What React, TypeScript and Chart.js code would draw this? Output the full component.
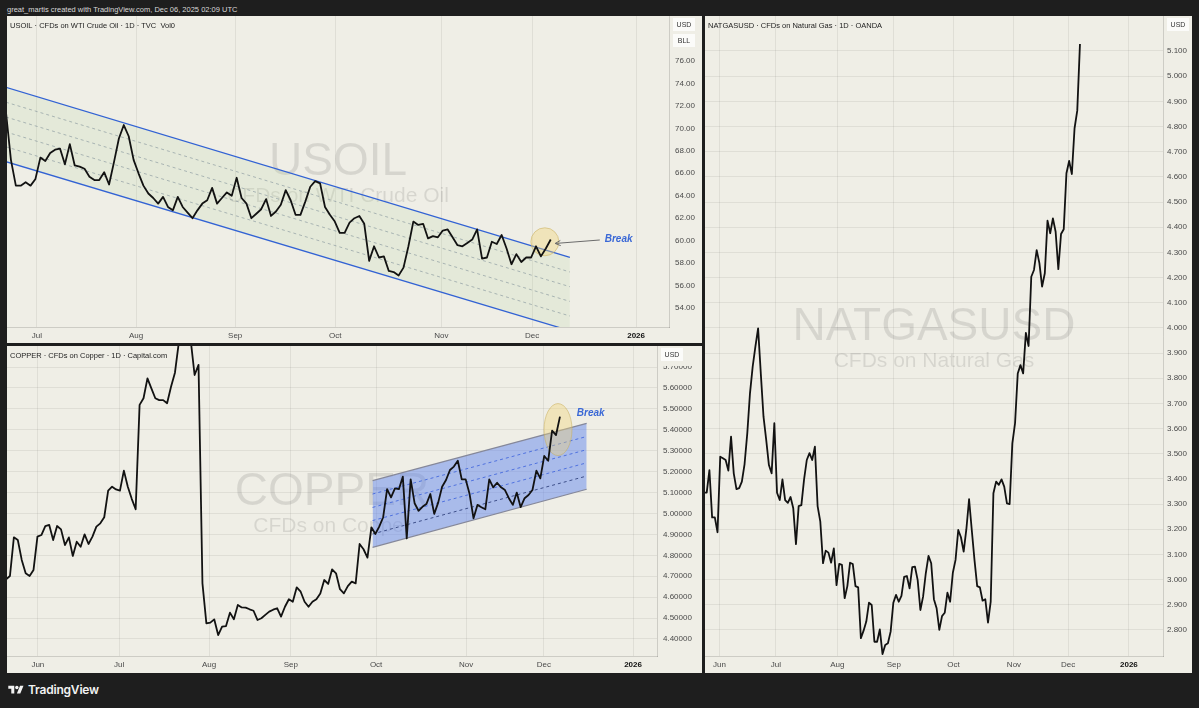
import React, { useEffect, useRef } from "react";
import { Chart, registerables } from "chart.js";

Chart.register(...registerables);

const FONT = "'Liberation Sans', Arial, Helvetica, sans-serif";
const CREAM = "#efeee6";

// ---------------- USOIL (daily closes, one value per bar) ----------------
const oilClose = [
  71.4, 67.2, 64.9, 64.9, 65.2, 64.9, 65.5, 67.4, 67.1, 67.8, 68.1, 68.2, 66.8, 68.6, 66.7, 66.6, 66.4, 65.7, 65.4, 65.4,
  66.1, 65.0, 67.0, 69.1, 70.3, 69.3, 67.2, 66.0, 64.9, 64.2, 63.8, 63.3, 63.9, 63.0, 62.7, 63.9, 63.0, 62.5, 62.0, 62.7,
  63.3, 63.6, 64.7, 63.3, 63.8, 64.3, 64.0, 65.6, 63.8, 63.3, 62.0, 62.4, 62.8, 63.7, 62.2, 62.6, 63.2, 64.5, 63.6, 62.3,
  62.3, 63.5, 64.8, 65.3, 65.1, 63.0, 62.3, 61.7, 60.7, 60.7, 61.6, 62.0, 62.2, 61.5, 58.2, 59.5, 58.5, 58.6, 57.3, 57.2,
  56.9, 57.6, 59.5, 61.7, 61.4, 61.5, 60.2, 60.4, 60.3, 60.9, 61.0, 60.3, 59.6, 59.5, 59.8, 60.1, 61.0, 58.4, 58.5, 59.9,
  59.7, 60.5, 59.3, 57.9, 58.8, 58.1, 58.5, 58.5, 59.5, 58.6, 59.3, 60.1,
];
const oilMonthLabels = ["Jul", "Aug", "Sep", "Oct", "Nov", "Dec", "2026"];
const oilMonthBars = [6.3, 26.5, 46.7, 67.1, 88.7, 107.2, 128.4];
const oilPriceTicks = [54, 56, 58, 60, 62, 64, 66, 68, 70, 72, 74, 76];
const oilChannelBars = [0, 114.9];
const oilChannelUpper = [73.66, 58.52];
const oilChannelLevels = [
  [72.33, 57.21],
  [71.01, 55.9],
  [69.68, 54.59],
  [68.36, 53.29],
];
const oilChannelLower = [67.03, 51.98];
const oilBreakCircle = [109.8, 59.9];
const oilBreakArrowFrom = [121.0, 60.06];
const oilBreakArrowTo = [111.9, 59.75];
const oilBreakText = [122.0, 60.1];

// ---------------- COPPER ----------------
const copperClose = [
  4.685, 4.701, 4.886, 4.873, 4.778, 4.714, 4.701, 4.73, 4.889, 4.897,
  4.94, 4.945, 4.873, 4.94, 4.924, 4.849, 4.886, 4.797, 4.865, 4.841,
  4.9, 4.854, 4.889, 4.937, 4.953, 4.982, 5.109, 5.128, 5.115, 5.109,
  5.205, 5.128, 5.07, 5.02, 5.519, 5.551, 5.646, 5.598, 5.551, 5.542,
  5.542, 5.527, 5.606, 5.673, 5.82, 5.9, 5.93, 5.83, 5.662, 5.71,
  4.666, 4.475, 4.478, 4.494, 4.419, 4.459, 4.462, 4.526, 4.494, 4.563,
  4.551, 4.55, 4.542, 4.535, 4.491, 4.499, 4.515, 4.531, 4.54, 4.547,
  4.507, 4.554, 4.59, 4.578, 4.647, 4.626, 4.578, 4.554, 4.578, 4.59,
  4.618, 4.682, 4.663, 4.733, 4.714, 4.638, 4.618, 4.653, 4.674, 4.666,
  4.854, 4.829, 4.789, 4.934, 4.902, 4.937, 4.982, 5.116, 5.077, 5.12,
  5.116, 5.176, 4.881, 5.163, 5.049, 5.013, 5.032, 5.045, 5.093, 4.998,
  5.052, 5.128, 5.16, 5.208, 5.224, 5.252, 5.163, 5.163, 5.093, 4.977,
  5.041, 5.03, 5.02, 5.163, 5.125, 5.147, 5.125, 5.112, 5.073, 5.041,
  5.1, 5.03, 5.073, 5.088, 5.112, 5.205, 5.168, 5.275, 5.252, 5.396,
  5.375, 5.463,
];
const copperMonthLabels = ["Jun", "Jul", "Aug", "Sep", "Oct", "Nov", "Dec", "2026"];
const copperMonthBars = [8.1, 28.8, 51.7, 72.5, 94.2, 117.1, 136.9, 159.6];
const copperPriceTicks = [4.4, 4.5, 4.6, 4.7, 4.8, 4.9, 5.0, 5.1, 5.2, 5.3, 5.4, 5.5, 5.6, 5.7];
const copperChannelBars = [93.3, 147.8];
const copperChannelUpper = [5.157, 5.431];
const copperChannelLevels = [
  [5.093, 5.368],
  [5.029, 5.305],
  [4.966, 5.242],
  [4.902, 5.179],
];
const copperChannelLower = [4.838, 5.116];
const copperBreakEllipse = [140.5, 5.401];
const copperBreakText = [145.3, 5.48];

// ---------------- NATGASUSD ----------------
const gasClose = [
  3.345, 3.345, 3.435, 3.247, 3.247, 3.188, 3.488, 3.482, 3.475, 3.433,
  3.568, 3.422, 3.359, 3.363, 3.389, 3.459, 3.581, 3.74, 3.846, 3.925,
  3.998, 3.819, 3.647, 3.555, 3.455, 3.422, 3.621, 3.345, 3.316, 3.398,
  3.316, 3.305, 3.328, 3.283, 3.141, 3.292, 3.296, 3.398, 3.475, 3.502,
  3.475, 3.528, 3.292, 3.23, 3.065, 3.115, 3.107, 3.067, 3.124, 2.978,
  3.062, 3.058, 2.926, 2.974, 3.067, 3.062, 2.974, 2.969, 2.767, 2.797,
  2.833, 2.908, 2.899, 2.753, 2.753, 2.802, 2.704, 2.74, 2.747, 2.793,
  2.908, 2.939, 2.912, 2.935, 3.011, 3.014, 2.965, 3.049, 3.051, 2.998,
  2.879, 2.932, 3.025, 3.094, 3.065, 2.922, 2.886, 2.8, 2.855, 2.868,
  2.948, 2.912, 3.027, 3.078, 3.197, 3.168, 3.111, 3.2, 3.319, 3.197,
  3.078, 2.974, 2.969, 2.916, 2.922, 2.829, 2.912, 3.343, 3.389, 3.376,
  3.398, 3.369, 3.303, 3.3, 3.541, 3.621, 3.819, 3.852, 3.819, 3.98,
  3.928, 4.203, 4.23, 4.309, 4.257, 4.164, 4.217, 4.426, 4.376, 4.435,
  4.382, 4.233, 4.373, 4.392, 4.614, 4.663, 4.611, 4.793, 4.863, 5.128,
];
const gasMonthLabels = ["Jun", "Jul", "Aug", "Sep", "Oct", "Nov", "Dec", "2026"];
const gasMonthBars = [5.7, 26.6, 49.3, 70.2, 92.2, 114.6, 134.6, 157.1];
const gasPriceTicks = [
  2.8, 2.9, 3.0, 3.1, 3.2, 3.3, 3.4, 3.5, 3.6, 3.7, 3.8, 3.9, 4.0,
  4.1, 4.2, 4.3, 4.4, 4.5, 4.6, 4.7, 4.8, 4.9, 5.0, 5.1,
];

type Pt = number[];
type Spec = {
  title: string;
  mark: string;
  markSub: string;
  close: number[];
  xMin: number;
  xMax: number;
  monthBars: number[];
  monthLabels: string[];
  yMin: number;
  yMax: number;
  yTicks: number[];
  decimals: number;
  yGrid: boolean;
  axisWidth: number;
  axisHeight: number;
  labelPad: number;
  boxes: string[];
  coverTop: number;
  extra: any[];
  ellipse?: { at: Pt; rx: number; ry: number };
  arrow?: { from: Pt; to: Pt };
  breakText?: Pt;
};

function seg(bars: number[], vals: number[]) {
  return bars.map((b, i) => ({ x: b, y: vals[i] }));
}

function channelSets(
  bars: number[],
  upper: number[],
  lower: number[],
  levels: number[][],
  edge: string,
  edgeWidth: number,
  fillColor: string,
  dashColors: string[]
) {
  const sets: any[] = [
    { data: seg(bars, upper), borderColor: edge, borderWidth: edgeWidth, pointRadius: 0, fill: false },
    { data: seg(bars, lower), borderColor: edge, borderWidth: edgeWidth, pointRadius: 0, fill: "-1", backgroundColor: fillColor },
  ];
  levels.forEach((lv, i) => {
    sets.push({
      data: seg(bars, lv),
      borderColor: dashColors[i],
      borderWidth: 1,
      borderDash: [3, 3],
      pointRadius: 0,
      fill: false,
    });
  });
  return sets;
}

function decorPlugin(spec: Spec) {
  return {
    id: "decor",
    beforeDatasetsDraw(chart: any) {
      const { ctx, chartArea: a } = chart;
      ctx.save();
      ctx.beginPath();
      ctx.rect(a.left, a.top, a.right - a.left, a.bottom - a.top);
      ctx.clip();
      ctx.fillStyle = "rgba(0,0,0,0.1)";
      ctx.textAlign = "center";
      ctx.textBaseline = "middle";
      const cx = (a.left + a.right) / 2;
      const cy = (a.top + a.bottom) / 2;
      ctx.font = `46px ${FONT}`;
      ctx.fillText(spec.mark, cx, cy - 9);
      ctx.font = `21px ${FONT}`;
      ctx.fillText(spec.markSub, cx, cy + 25);
      ctx.restore();
    },
    beforeDatasetDraw(chart: any, args: any) {
      if (args.index !== 0 || !spec.ellipse) return;
      const { ctx } = chart;
      const xs = chart.scales.x;
      const ys = chart.scales.y;
      const e = spec.ellipse;
      ctx.save();
      ctx.beginPath();
      ctx.ellipse(xs.getPixelForValue(e.at[0]), ys.getPixelForValue(e.at[1]), e.rx, e.ry, 0, 0, Math.PI * 2);
      ctx.fillStyle = "rgba(242,214,115,0.38)";
      ctx.fill();
      ctx.strokeStyle = "rgba(200,175,95,0.55)";
      ctx.lineWidth = 1;
      ctx.stroke();
      ctx.restore();
    },
    afterDatasetsDraw(chart: any) {
      const { ctx } = chart;
      const xs = chart.scales.x;
      const ys = chart.scales.y;
      ctx.save();
      if (spec.arrow) {
        const x1 = xs.getPixelForValue(spec.arrow.from[0]);
        const y1 = ys.getPixelForValue(spec.arrow.from[1]);
        const x2 = xs.getPixelForValue(spec.arrow.to[0]);
        const y2 = ys.getPixelForValue(spec.arrow.to[1]);
        ctx.strokeStyle = "#6b6b6b";
        ctx.lineWidth = 1;
        ctx.beginPath();
        ctx.moveTo(x1, y1);
        ctx.lineTo(x2, y2);
        const ang = Math.atan2(y2 - y1, x2 - x1);
        const L = 6;
        ctx.moveTo(x2 - L * Math.cos(ang - 0.45), y2 - L * Math.sin(ang - 0.45));
        ctx.lineTo(x2, y2);
        ctx.lineTo(x2 - L * Math.cos(ang + 0.45), y2 - L * Math.sin(ang + 0.45));
        ctx.stroke();
      }
      if (spec.breakText) {
        ctx.fillStyle = "#3a68d6";
        ctx.font = `italic bold 10px ${FONT}`;
        ctx.textAlign = "left";
        ctx.textBaseline = "middle";
        ctx.fillText("Break", xs.getPixelForValue(spec.breakText[0]), ys.getPixelForValue(spec.breakText[1]));
      }
      ctx.restore();
    },
    afterDraw(chart: any) {
      const { ctx, chartArea: a } = chart;
      const ys = chart.scales.y;
      ctx.save();
      ctx.fillStyle = CREAM;
      ctx.fillRect(ys.left + 1, a.bottom + 1, ys.right - ys.left, chart.height - a.bottom);
      if (spec.coverTop > 0) ctx.fillRect(ys.left + 1, 0, ys.right - ys.left, spec.coverTop);
      ctx.fillStyle = "#1d1d1d";
      ctx.font = `7.5px ${FONT}`;
      ctx.textAlign = "left";
      ctx.textBaseline = "middle";
      ctx.fillText(spec.title, a.left + 3, 9.5);
      spec.boxes.forEach((b, k) => {
        const bx = ys.left + 4;
        const by = 2 + k * 16;
        ctx.fillStyle = "#fbfbf9";
        ctx.beginPath();
        ctx.rect(bx, by, 22, 13);
        ctx.fill();
        ctx.fillStyle = "#333";
        ctx.font = `7px ${FONT}`;
        ctx.textAlign = "center";
        ctx.fillText(b, bx + 11, by + 7);
      });
      ctx.restore();
    },
  };
}

function buildConfig(spec: Spec): any {
  const last = spec.monthLabels.length - 1;
  const priceSet = {
    data: spec.close.map((v, i) => ({ x: i, y: v })),
    borderColor: "#121212",
    borderWidth: 1.8,
    pointRadius: 0,
    tension: 0,
    fill: false,
    borderJoinStyle: "round",
  };
  return {
    type: "line",
    data: { datasets: [priceSet, ...spec.extra] },
    plugins: [decorPlugin(spec)],
    options: {
      responsive: false,
      maintainAspectRatio: false,
      animation: false,
      devicePixelRatio: 1,
      layout: { padding: 0 },
      events: [],
      plugins: { legend: { display: false }, tooltip: { enabled: false } },
      scales: {
        x: {
          type: "linear",
          position: "bottom",
          min: spec.xMin,
          max: spec.xMax,
          afterBuildTicks: (s: any) => {
            s.ticks = spec.monthBars.map((v) => ({ value: v }));
          },
          afterFit: (s: any) => {
            s.height = spec.axisHeight;
            s.paddingLeft = 0;
            s.paddingRight = 0;
          },
          ticks: {
            autoSkip: false,
            maxRotation: 0,
            padding: 4,
            callback: (_v: any, i: number) => spec.monthLabels[i],
            font: (c: any) => ({ family: FONT, size: 8, weight: c.index === last ? "bold" : "normal" }),
            color: (c: any) => (c.index === last ? "#111" : "#4a4a4a"),
          },
          grid: { color: "rgba(0,0,0,0.065)", drawTicks: false },
          border: { display: true, color: "rgba(0,0,0,0.14)" },
        },
        y: {
          type: "linear",
          position: "right",
          min: spec.yMin,
          max: spec.yMax,
          afterBuildTicks: (s: any) => {
            s.ticks = spec.yTicks.map((v) => ({ value: v }));
          },
          afterFit: (s: any) => {
            s.width = spec.axisWidth;
            s.paddingTop = 0;
            s.paddingBottom = 0;
          },
          ticks: {
            padding: spec.labelPad,
            crossAlign: "near",
            callback: (v: any) => Number(v).toFixed(spec.decimals),
            font: { family: FONT, size: 8 },
            color: "#4a4a4a",
          },
          grid: { display: spec.yGrid, color: "rgba(0,0,0,0.065)", drawTicks: false },
          border: { display: true, color: "rgba(0,0,0,0.14)" },
        },
      },
    },
  };
}

const oilSpec: Spec = {
  title: "USOIL · CFDs on WTI Crude Oil · 1D · TVC  Vol0",
  mark: "USOIL",
  markSub: "CFDs on WTI Crude Oil",
  close: oilClose,
  xMin: 0.2,
  xMax: 135.1,
  monthBars: oilMonthBars,
  monthLabels: oilMonthLabels,
  yMin: 52.31,
  yMax: 80.01,
  yTicks: oilPriceTicks,
  decimals: 2,
  yGrid: false,
  axisWidth: 33,
  axisHeight: 16,
  labelPad: 6,
  boxes: ["USD", "BLL"],
  coverTop: 0,
  extra: channelSets(
    oilChannelBars,
    oilChannelUpper,
    oilChannelLower,
    oilChannelLevels,
    "#3262d4",
    1.3,
    "rgba(175,212,150,0.16)",
    ["rgba(95,110,140,0.5)", "rgba(95,110,140,0.5)", "rgba(95,110,140,0.5)", "rgba(95,110,140,0.5)"]
  ),
  ellipse: { at: oilBreakCircle, rx: 14, ry: 14 },
  arrow: { from: oilBreakArrowFrom, to: oilBreakArrowTo },
  breakText: oilBreakText,
};

const copperSpec: Spec = {
  title: "COPPER · CFDs on Copper · 1D · Capital.com",
  mark: "COPPER",
  markSub: "CFDs on Copper",
  close: copperClose,
  xMin: 0.25,
  xMax: 165.7,
  monthBars: copperMonthBars,
  monthLabels: copperMonthLabels,
  yMin: 4.3187,
  yMax: 5.8006,
  yTicks: copperPriceTicks,
  decimals: 5,
  yGrid: true,
  axisWidth: 45,
  axisHeight: 17,
  labelPad: 6,
  boxes: ["USD"],
  coverTop: 20,
  extra: channelSets(
    copperChannelBars,
    copperChannelUpper,
    copperChannelLower,
    copperChannelLevels,
    "#85889a",
    1.2,
    "rgba(85,125,240,0.45)",
    ["rgba(55,90,205,0.9)", "rgba(55,90,205,0.9)", "rgba(55,90,205,0.9)", "#2a2a35"]
  ),
  ellipse: { at: copperBreakEllipse, rx: 14, ry: 26 },
  breakText: copperBreakText,
};

const gasSpec: Spec = {
  title: "NATGASUSD · CFDs on Natural Gas · 1D · OANDA",
  mark: "NATGASUSD",
  markSub: "CFDs on Natural Gas",
  close: gasClose,
  xMin: 0.37,
  xMax: 169.7,
  monthBars: gasMonthBars,
  monthLabels: gasMonthLabels,
  yMin: 2.6963,
  yMax: 5.239,
  yTicks: gasPriceTicks,
  decimals: 3,
  yGrid: true,
  axisWidth: 29,
  axisHeight: 17,
  labelPad: 4,
  boxes: ["USD"],
  coverTop: 0,
  extra: [],
};

function Panel(props: { spec: Spec; left: number; top: number; width: number; height: number }) {
  const ref = useRef<HTMLCanvasElement | null>(null);
  useEffect(() => {
    if (!ref.current) return;
    const chart = new Chart(ref.current, buildConfig(props.spec));
    return () => chart.destroy();
  }, []);
  const { left, top, width, height } = props;
  return (
    <div style={{ position: "absolute", left, top, width, height, background: CREAM }}>
      <canvas ref={ref} width={width} height={height} style={{ display: "block", width, height }} />
    </div>
  );
}

function Logo() {
  return (
    <div style={{ position: "absolute", left: 8, top: 682, display: "flex", alignItems: "center" }}>
      <svg width="16" height="12" viewBox="0 0 36 28">
        <path d="M14 22H7V11H0V4h14v18zM28 22h-8l7.5-18h8L28 22z" fill="#f2f2f2" />
        <circle cx="20" cy="8" r="4" fill="#f2f2f2" />
      </svg>
      <span
        style={{
          marginLeft: 4,
          color: "#f2f2f2",
          fontFamily: "Inter, 'Liberation Sans', sans-serif",
          fontSize: 12,
          fontWeight: 600,
          letterSpacing: -0.2,
        }}
      >
        TradingView
      </span>
    </div>
  );
}

export default function App() {
  return (
    <div
      style={{
        position: "fixed",
        left: 0,
        top: 0,
        width: 1199,
        height: 708,
        background: "#1e1e1e",
        overflow: "hidden",
        fontFamily: FONT,
      }}
    >
      <div
        style={{
          position: "absolute",
          left: 7,
          top: 4,
          fontSize: 7.5,
          lineHeight: "12px",
          color: "#d8d8d8",
          whiteSpace: "nowrap",
        }}
      >
        great_martis created with TradingView.com, Dec 06, 2025 02:09 UTC
      </div>
      <Panel spec={oilSpec} left={7} top={16} width={695} height={327} />
      <Panel spec={copperSpec} left={7} top={346} width={695} height={327} />
      <Panel spec={gasSpec} left={705} top={16} width={487} height={657} />
      <Logo />
    </div>
  );
}
